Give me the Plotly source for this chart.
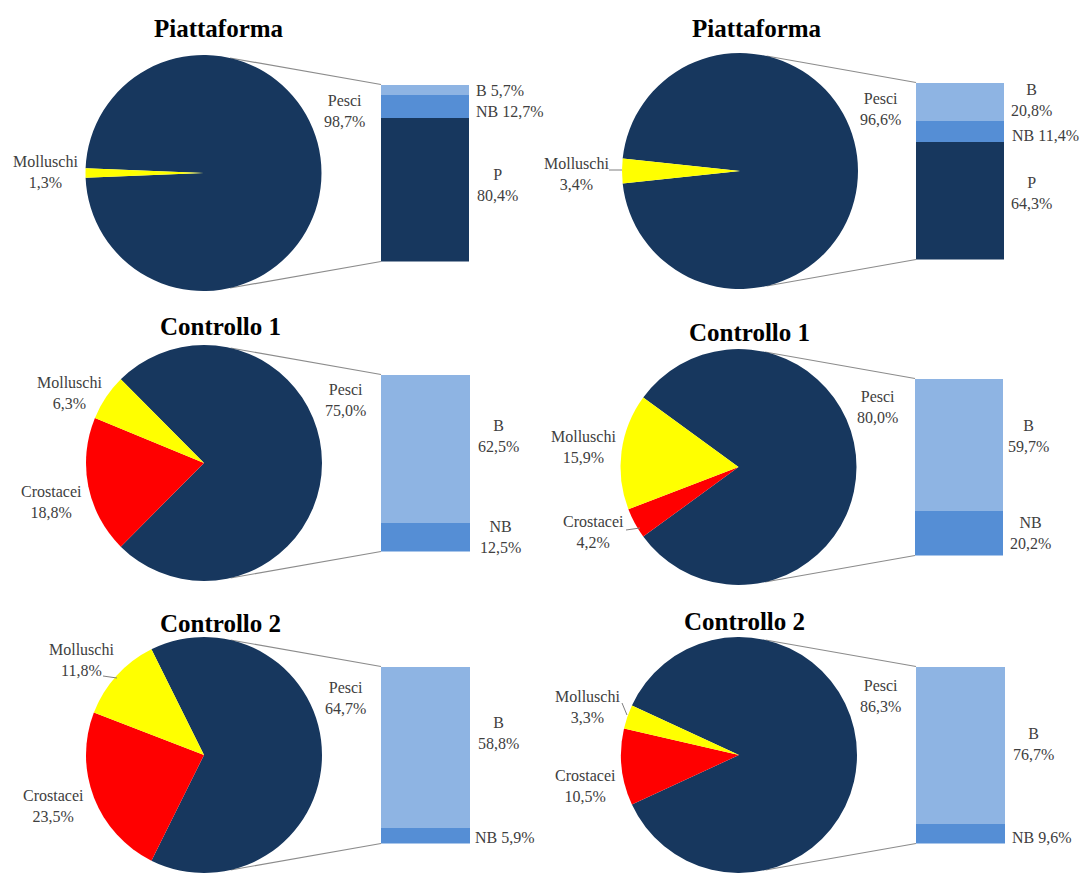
import math
import plotly.graph_objects as go

# ---- data -------------------------------------------------------------
titles = ["Piattaforma", "Piattaforma", "Controllo 1", "Controllo 1", "Controllo 2", "Controllo 2"]
pesci = [98.7, 96.6, 75.0, 80.0, 64.7, 86.3]
molluschi = [1.3, 3.4, 6.3, 15.9, 11.8, 3.3]
crostacei = [0.0, 0.0, 18.8, 4.2, 23.5, 10.5]
# breakdown of Pesci shown in the stacked bar (bottom -> top: P, NB, B)
pesci_p = [80.4, 64.3, 0.0, 0.0, 0.0, 0.0]
pesci_nb = [12.7, 11.4, 12.5, 20.2, 5.9, 9.6]
pesci_b = [5.7, 20.8, 62.5, 59.7, 58.8, 76.7]

# ---- style ------------------------------------------------------------
W, H = 1082, 873
NAVY = "#17375E"
YELLOW = "#FFFF00"
RED = "#FF0000"
LIGHT = "#8EB4E3"
MID = "#558ED5"
SERIF = "Liberation Serif, Times New Roman, serif"
TXT = "#404040"

# panel geometry in pixels: pie centre, radius, bar left/right x, title position
R = 118
BAR_H = 177
panels = [
    dict(cx=203.5, cy=173.0, bx0=381, bx1=469, tx=219, ty=29),
    dict(cx=740.0, cy=171.0, bx0=916, bx1=1004, tx=757, ty=29),
    dict(cx=204.0, cy=463.0, bx0=381, bx1=470, tx=220, ty=326),
    dict(cx=738.5, cy=467.0, bx0=915, bx1=1003, tx=749, ty=332),
    dict(cx=204.0, cy=755.0, bx0=381, bx1=470, tx=220, ty=623),
    dict(cx=739.0, cy=755.0, bx0=916, bx1=1005, tx=744, ty=621),
]


def px(x):
    return x / W


def py(y):
    return 1 - y / H


def pct(v):
    return f"{v:.1f}%".replace(".", ",")


fig = go.Figure()
shapes = []
annotations = []

for i, pn in enumerate(panels):
    cx, cy = pn["cx"], pn["cy"]
    labels = ["Pesci", "Crostacei", "Molluschi"]
    values = [pesci[i], crostacei[i], molluschi[i]]
    colors = [NAVY, RED, YELLOW]
    keep = [k for k, v in enumerate(values) if v > 0]
    total = sum(values)
    frac = pesci[i] / total
    fig.add_trace(go.Pie(
        labels=[labels[k] for k in keep],
        values=[values[k] for k in keep],
        marker=dict(colors=[colors[k] for k in keep], line=dict(width=0)),
        sort=False,
        direction="clockwise",
        rotation=90 - 180 * frac,
        textinfo="none",
        hoverinfo="label+percent",
        showlegend=False,
        domain=dict(x=[px(cx - R), px(cx + R)],
                    y=[max(0.0, py(cy + R)), min(1.0, py(cy - R))]),
    ))

    # stacked bar for the Pesci breakdown
    ax = "" if i == 0 else str(i + 1)
    top = cy - BAR_H / 2
    bot = cy + BAR_H / 2
    segs = [("P", pesci_p[i], NAVY), ("NB", pesci_nb[i], MID), ("B", pesci_b[i], LIGHT)]
    seg_total = sum(s[1] for s in segs)
    for name, v, col in segs:
        if v <= 0:
            continue
        fig.add_trace(go.Bar(
            x=[0], y=[v], name=name, width=1,
            marker=dict(color=col, line=dict(width=0)),
            xaxis="x" + ax, yaxis="y" + ax, showlegend=False,
            hovertemplate=name + " " + pct(v) + "<extra></extra>",
        ))
    fig.layout["xaxis" + ax] = dict(domain=[px(pn["bx0"]), px(pn["bx1"])], range=[-0.5, 0.5],
                                    visible=False, fixedrange=True, anchor="y" + ax)
    fig.layout["yaxis" + ax] = dict(domain=[py(bot), py(top)], range=[0, seg_total],
                                    visible=False, fixedrange=True, anchor="x" + ax)

    # series lines from pie to bar
    th = math.radians(13)
    p_top = (cx + R * math.sin(th), cy - R * math.cos(th))
    p_bot = (cx + R * math.sin(th), cy + R * math.cos(th))
    for (x0, y0), y1 in ((p_top, top), (p_bot, bot)):
        shapes.append(dict(type="line", xref="paper", yref="paper",
                           x0=px(x0), y0=py(y0), x1=px(pn["bx0"]), y1=py(y1),
                           line=dict(color="#8C8C8C", width=1.2), layer="below"))

    # title
    annotations.append(dict(x=px(pn["tx"]), y=py(pn["ty"]), xref="paper", yref="paper",
                            text="<b>" + titles[i] + "</b>", showarrow=False,
                            xanchor="center", yanchor="middle",
                            font=dict(family=SERIF, size=25, color="black")))


def label(x, y, text, anchor="center"):
    annotations.append(dict(x=px(x), y=py(y), xref="paper", yref="paper", text=text,
                            showarrow=False, xanchor=anchor, yanchor="middle", align="center",
                            font=dict(family=SERIF, size=16, color=TXT)))


# Piattaforma (left)
label(344, 111, "Pesci<br>" + pct(pesci[0]))
label(45, 172, "Molluschi<br>" + pct(molluschi[0]))
label(474, 91, "B " + pct(pesci_b[0]), "left")
label(474, 112, "NB " + pct(pesci_nb[0]), "left")
label(497, 185, "P<br>" + pct(pesci_p[0]))
# Piattaforma (right)
label(880, 109, "Pesci<br>" + pct(pesci[1]))
label(576, 174, "Molluschi<br>" + pct(molluschi[1]))
label(1031, 100, "B<br>" + pct(pesci_b[1]))
label(1010, 135, "NB " + pct(pesci_nb[1]), "left")
label(1031, 193, "P<br>" + pct(pesci_p[1]))
# Controllo 1 (left)
label(345, 400, "Pesci<br>" + pct(pesci[2]))
label(69, 393, "Molluschi<br>" + pct(molluschi[2]))
label(51, 502, "Crostacei<br>" + pct(crostacei[2]))
label(498, 436, "B<br>" + pct(pesci_b[2]))
label(500, 537, "NB<br>" + pct(pesci_nb[2]))
# Controllo 1 (right)
label(878, 407, "Pesci<br>" + pct(pesci[3]))
label(583, 447, "Molluschi<br>" + pct(molluschi[3]))
label(593, 532, "Crostacei<br>" + pct(crostacei[3]))
label(1028, 436, "B<br>" + pct(pesci_b[3]))
label(1030, 533, "NB<br>" + pct(pesci_nb[3]))
# Controllo 2 (left)
label(345, 698, "Pesci<br>" + pct(pesci[4]))
label(81, 660, "Molluschi<br>" + pct(molluschi[4]))
label(53, 806, "Crostacei<br>" + pct(crostacei[4]))
label(498, 733, "B<br>" + pct(pesci_b[4]))
label(473, 837, "NB " + pct(pesci_nb[4]), "left")
# Controllo 2 (right)
label(880, 696, "Pesci<br>" + pct(pesci[5]))
label(587, 707, "Molluschi<br>" + pct(molluschi[5]))
label(585, 786, "Crostacei<br>" + pct(crostacei[5]))
label(1033, 744, "B<br>" + pct(pesci_b[5]))
label(1010, 837, "NB " + pct(pesci_nb[5]), "left")

# short leader lines from small labels to their slices
for x0, y0, x1, y1 in [(609, 170, 622, 170), (626, 530, 640, 528),
                       (103, 676, 117, 678), (622, 703, 627, 715)]:
    shapes.append(dict(type="line", xref="paper", yref="paper",
                       x0=px(x0), y0=py(y0), x1=px(x1), y1=py(y1),
                       line=dict(color="#7F7F7F", width=1)))

fig.update_layout(
    width=W, height=H,
    margin=dict(l=0, r=0, t=0, b=0),
    paper_bgcolor="white", plot_bgcolor="white",
    barmode="stack", bargap=0,
    shapes=shapes, annotations=annotations,
    showlegend=False,
)

fig.write_html("out.html")
